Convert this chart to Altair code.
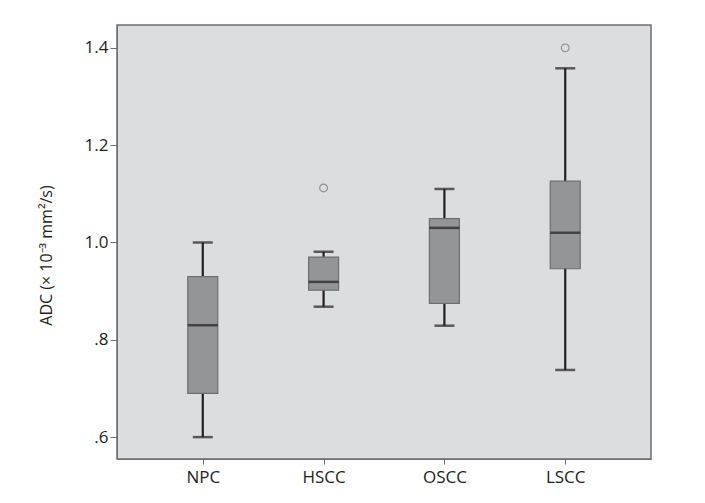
import altair as alt
import pandas as pd

groups = ["NPC", "HSCC", "OSCC", "LSCC"]
whisker_low = [0.600, 0.868, 0.829, 0.738]
q1 = [0.690, 0.902, 0.875, 0.946]
median = [0.830, 0.919, 1.030, 1.020]
q3 = [0.930, 0.970, 1.049, 1.126]
whisker_high = [1.000, 0.981, 1.110, 1.358]

outlier_groups = ["HSCC", "LSCC"]
outlier_values = [1.112, 1.400]

box = pd.DataFrame({
    "group": groups, "lo": whisker_low, "q1": q1, "med": median,
    "q3": q3, "hi": whisker_high,
})
outl = pd.DataFrame({"group": outlier_groups, "v": outlier_values})

FONT = "Open Sans"
DARK = "#231f20"
GRAY = "#6d6e71"

x = alt.X("group:N", sort=groups,
          scale=alt.Scale(type="point", padding=0.71),
          axis=alt.Axis(title=None, labelAngle=0, labelFontSize=17,
                        labelColor=DARK, labelFont=FONT, tickSize=5,
                        tickColor=GRAY, domainColor=GRAY, labelPadding=5,
                        grid=False))
yscale = alt.Scale(domain=[0.555, 1.447], nice=False, zero=False)
yaxis = alt.Axis(title="ADC (× 10⁻³ mm²/s)", values=[0.6, 0.8, 1.0, 1.2, 1.4],
                 labelExpr="datum.value < 1 ? '.' + format(datum.value*10, '.0f') : format(datum.value, '.1f')",
                 labelFontSize=17, labelColor=DARK, labelFont=FONT,
                 titleFont=FONT, titleFontSize=16, titleFontWeight="normal",
                 titleColor=DARK, titlePadding=30, titleY=230,
                 tickSize=7, tickColor=GRAY, domainColor=GRAY,
                 labelPadding=2, grid=False)

base = alt.Chart(box)

whisk = base.mark_rule(color=DARK, strokeWidth=2.2).encode(
    x=x, y=alt.Y("lo:Q", scale=yscale, axis=yaxis), y2="hi:Q")
caps_lo = base.mark_tick(color=DARK, size=20, thickness=2.5, orient="horizontal").encode(
    x=x, y=alt.Y("lo:Q", scale=yscale))
caps_hi = base.mark_tick(color=DARK, size=20, thickness=2.5, orient="horizontal").encode(
    x=x, y=alt.Y("hi:Q", scale=yscale))
boxes = base.mark_bar(size=30, fill="#939598", stroke=GRAY, strokeWidth=1.2).encode(
    x=x, y=alt.Y("q1:Q", scale=yscale), y2="q3:Q")
med = base.mark_tick(color=DARK, size=30, thickness=2.5, orient="horizontal").encode(
    x=x, y=alt.Y("med:Q", scale=yscale))
pts = alt.Chart(outl).mark_point(shape="circle", filled=False, size=60,
                                 stroke=GRAY, strokeWidth=1.1).encode(
    x=x, y=alt.Y("v:Q", scale=yscale))

chart = alt.layer(whisk, caps_lo, caps_hi, boxes, med, pts).properties(
    width=534, height=434,
    autosize=alt.AutoSizeParams(type="none"),
    padding={"left": 109, "top": 17, "right": 46, "bottom": 36},
    background="white",
).configure_view(fill="#dcdddf", stroke=GRAY, strokeWidth=1.5)

chart.save("out.html", embed_options={"renderer": "svg", "actions": False})
